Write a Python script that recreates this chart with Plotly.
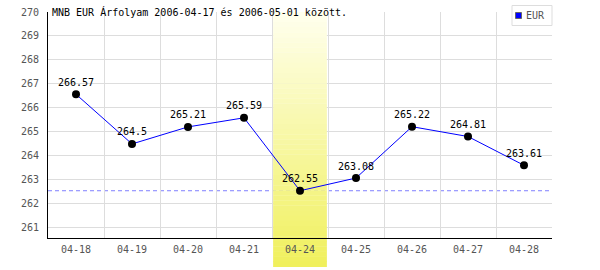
import plotly.graph_objects as go

categories = ["04-18", "04-19", "04-20", "04-21", "04-24", "04-25", "04-26", "04-27", "04-28"]
values = [266.57, 264.5, 265.21, 265.59, 262.55, 263.08, 265.22, 264.81, 263.61]
value_labels = ["266.57", "264.5", "265.21", "265.59", "262.55", "263.08", "265.22", "264.81", "263.61"]
y_ticks = [261, 262, 263, 264, 265, 266, 267, 268, 269, 270]
highlight_cat = "04-24"
title_text = "MNB EUR Árfolyam 2006-04-17 és 2006-05-01 között."
series_name = "EUR"

FONT = "DejaVu Sans Mono"
W, H = 600, 270
ML, MR, MT, MB = 48, 48, 12, 32
YMIN, YMAX = 260.58, 270.0
plot_h = H - MT - MB
plot_w = W - ML - MR

fig = go.Figure()
fig.add_trace(go.Scatter(
    x=categories, y=values, mode="lines+markers+text",
    line=dict(color="#0000ff", width=1),
    marker=dict(color="black", size=8),
    text=value_labels, textposition="top center",
    textfont=dict(family=FONT, size=10, color="black"),
    showlegend=False, cliponaxis=False,
))

def to_paper(py):
    return (H - MB - py) / plot_h

def px_to_xpaper(px):
    return (px - ML) / plot_w

# gradient highlight band
hi = categories.index(highlight_cat)
top_c = (255, 255, 238)
bot_c = (240, 240, 92)
y_top_px = MT
y_bot_px = 267
n = 50
for i in range(n):
    p0 = y_top_px + (y_bot_px - y_top_px) * i / n
    p1 = y_top_px + (y_bot_px - y_top_px) * (i + 1) / n
    t = (i + 0.5) / n
    c = tuple(round(top_c[k] + (bot_c[k] - top_c[k]) * t) for k in range(3))
    col = "rgb(%d,%d,%d)" % c
    a0, a1 = to_paper(p1), to_paper(p0)
    if a1 <= 0:
        fig.add_shape(type="rect", xref="x", yref="paper", x0=hi - 0.48, x1=hi + 0.48,
                      y0=a0, y1=a1 + 0.002, fillcolor=col, line=dict(width=0), layer="below")
    else:
        lo = max(a0, 0)
        ylo = YMIN + (YMAX - YMIN) * lo
        yhi = YMIN + (YMAX - YMIN) * a1
        fig.add_shape(type="rect", xref="x", yref="y", x0=hi - 0.48, x1=hi + 0.48,
                      y0=ylo, y1=yhi + 0.01, fillcolor=col, line=dict(width=0), layer="between")
        if a0 < 0:
            fig.add_shape(type="rect", xref="x", yref="paper", x0=hi - 0.48, x1=hi + 0.48,
                          y0=a0, y1=0, fillcolor=col, line=dict(width=0), layer="below")

# minimum dashed line
fig.add_shape(type="line", xref="paper", yref="y", x0=0, x1=1, y0=min(values), y1=min(values),
              line=dict(color="#7f7fff", width=1, dash="4px,3px"), layer="between")

# title
fig.add_annotation(text=title_text, xref="paper", yref="paper", x=0, y=1, xshift=2,
                   xanchor="left", yanchor="middle", showarrow=False,
                   font=dict(family=FONT, size=10, color="black"))

# manual legend box
fig.add_shape(type="rect", xref="paper", yref="paper",
              x0=px_to_xpaper(512), x1=px_to_xpaper(552), y0=to_paper(25.5), y1=to_paper(5.5),
              fillcolor="white", line=dict(color="#dddddd", width=1), layer="above")
fig.add_shape(type="rect", xref="paper", yref="paper",
              x0=px_to_xpaper(515.5), x1=px_to_xpaper(521.5), y0=to_paper(18.5), y1=to_paper(12.5),
              fillcolor="#0000ff", line=dict(color="#666666", width=1), layer="above")
fig.add_annotation(text=series_name, xref="paper", yref="paper",
                   x=px_to_xpaper(524), y=to_paper(15.5), xanchor="left", yanchor="middle",
                   showarrow=False, font=dict(family=FONT, size=10, color="#555"))

fig.update_layout(
    width=W, height=H,
    margin=dict(l=ML, r=MR, t=MT, b=MB, autoexpand=False),
    paper_bgcolor="white", plot_bgcolor="rgba(0,0,0,0)",
    font=dict(family=FONT, size=10, color="#555"),
    showlegend=False,
    xaxis=dict(type="category", categoryorder="array", categoryarray=categories,
               range=[-0.5, len(categories) - 0.5],
               tickson="boundaries", showgrid=True, gridcolor="#dddddd", gridwidth=1,
               showline=True, linecolor="black", linewidth=1, ticks="",
               tickfont=dict(family=FONT, size=10, color="#555"), ticklabelstandoff=2,
               zeroline=False, automargin=False),
    yaxis=dict(range=[YMIN, YMAX], tickvals=y_ticks, ticktext=[str(v) for v in y_ticks],
               showgrid=True, gridcolor="#dddddd", gridwidth=1,
               showline=True, linecolor="black", linewidth=1, ticks="",
               tickfont=dict(family=FONT, size=10, color="#555"), ticklabelstandoff=6,
               zeroline=False, automargin=False),
)
fig.write_html("out.html")
